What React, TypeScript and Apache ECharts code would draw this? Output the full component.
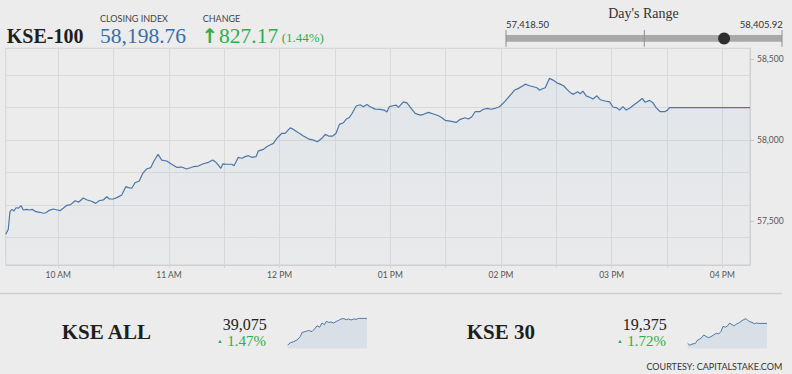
import React, { useEffect, useRef } from 'react';
import * as echarts from 'echarts';

// KSE-100 intraday (minutes since midnight, index level)
const times = [
  571.5, 572.9, 573.8, 574.9, 576.0, 577.1, 578.5, 579.9, 581.0, 582.9,
  584.6, 585.9, 587.9, 590.1, 591.9, 593.3, 595.1, 597.3, 599.5, 600.9,
  602.7, 604.6, 606.7, 609.1, 611.1, 613.6, 615.7, 618.1, 620.3, 622.1,
  624.4, 626.3, 627.7, 629.8, 632.0, 634.4, 636.6, 638.0, 639.8, 641.6,
  643.9, 645.8, 647.9, 650.1, 651.9, 654.1, 656.1, 658.8, 661.5, 664.2,
  666.9, 669.6, 673.2, 675.9, 678.6, 681.4, 683.7, 685.5, 686.8, 688.1,
  689.2, 691.3, 694.1, 695.3, 697.6, 699.5, 701.3, 703.1, 704.9, 707.2,
  708.5, 711.2, 713.0, 714.8, 716.6, 718.5, 721.2, 723.0, 725.7, 727.5,
  730.2, 732.9, 735.6, 738.3, 740.5, 742.9, 744.7, 746.5, 748.8, 750.6,
  752.4, 754.6, 756.0, 757.8, 759.1, 761.5, 763.6, 765.4, 767.3, 769.1,
  771.8, 774.5, 776.7, 778.1, 779.5, 781.4, 783.2, 784.4, 787.1, 789.0,
  791.1, 793.5, 796.2, 798.0, 800.7, 803.4, 806.1, 808.0, 809.7, 812.5,
  815.7, 817.9, 820.6, 822.4, 824.2, 826.0, 828.4, 830.5, 832.7, 834.5,
  836.9, 839.2, 841.4, 843.5, 845.9, 847.2, 849.5, 851.9, 853.1, 855.5,
  857.6, 859.5, 860.9, 862.2, 864.0, 866.3, 868.2, 870.3, 872.1, 873.9,
  875.8, 877.5, 879.3, 881.5, 883.0, 884.4, 886.2, 888.4, 889.9, 892.0,
  893.8, 896.5, 898.9, 900.7, 902.9, 904.3, 906.1, 907.9, 910.1, 912.3,
  914.0, 916.6, 918.2, 920.6, 922.4, 924.2, 926.4, 928.6, 930.3, 931.4,
  975,
];
const values = [
  57418, 57449, 57558, 57572, 57562, 57582, 57580, 57595, 57568, 57572,
  57568, 57572, 57558, 57554, 57548, 57551, 57566, 57574, 57568, 57564,
  57579, 57597, 57601, 57625, 57617, 57642, 57630, 57622, 57609, 57625,
  57630, 57650, 57636, 57636, 57646, 57661, 57712, 57706, 57702, 57736,
  57747, 57794, 57821, 57829, 57870, 57911, 57876, 57870, 57850, 57831,
  57833, 57821, 57835, 57839, 57853, 57862, 57876, 57862, 57845, 57825,
  57852, 57850, 57850, 57841, 57893, 57887, 57897, 57903, 57893, 57897,
  57933, 57942, 57958, 57969, 57979, 58010, 58041, 58041, 58075, 58065,
  58044, 58024, 58007, 57999, 57989, 58010, 58035, 58024, 58024, 58041,
  58096, 58106, 58127, 58139, 58160, 58209, 58217, 58205, 58219, 58205,
  58190, 58189, 58184, 58172, 58205, 58211, 58215, 58201, 58235, 58229,
  58198, 58164, 58153, 58158, 58170, 58160, 58149, 58137, 58121, 58116,
  58108, 58127, 58137, 58129, 58143, 58174, 58174, 58189, 58195, 58189,
  58195, 58205, 58229, 58256, 58287, 58306, 58318, 58334, 58344, 58334,
  58328, 58322, 58307, 58314, 58322, 58380, 58369, 58352, 58344, 58334,
  58312, 58293, 58281, 58297, 58285, 58301, 58272, 58262, 58252, 58272,
  58248, 58240, 58235, 58203, 58198, 58184, 58205, 58184, 58198, 58219,
  58232, 58256, 58232, 58244, 58229, 58198, 58174, 58174, 58184, 58199,
  58198.76,
];

// KSE ALL sparkline
const allTimes = [
  574.9, 588.3, 605.1, 621.9, 638.7, 647.1, 664.0, 680.8, 697.6, 709.3,
  722.8, 736.2, 748.0, 759.8, 769.9, 781.6, 793.4, 806.8, 820.3, 832.1,
  843.8, 857.3, 870.7, 882.5, 894.3, 907.7, 921.1, 933.3, 975,
];
const allValues = [
  38565, 38610, 38630, 38662, 38726, 38804, 38823, 38842, 38823, 38868,
  38933, 38907, 38985, 38952, 39017, 38997, 39004, 38985, 39017, 39036,
  39062, 39069, 39049, 39062, 39043, 39062, 39056, 39075, 39075,
];

// KSE 30 sparkline
const k30Times = [
  574.9, 585.0, 596.7, 613.5, 625.3, 635.4, 647.1, 655.6, 669.0, 680.8,
  692.5, 706.0, 719.4, 731.2, 742.9, 753.0, 764.8, 776.6, 786.7, 798.4,
  810.2, 820.3, 832.1, 843.8, 857.3, 869.0, 877.4, 887.5, 899.3, 911.1,
  921.1, 933.3, 975,
];
const k30Values = [
  19060, 19033, 19049, 19060, 19113, 19129, 19156, 19193, 19167, 19151,
  19167, 19193, 19220, 19209, 19247, 19327, 19316, 19338, 19380, 19354,
  19338, 19364, 19380, 19407, 19434, 19450, 19423, 19402, 19391, 19370,
  19380, 19375, 19375,
];

const gridMinutes = [600, 630, 660, 690, 720, 750, 780, 810, 840, 870, 900, 930, 960];
const hourMinutes = [600, 660, 720, 780, 840, 900, 960];
const yGridValues = [57400, 57600, 57800, 58000, 58200, 58400];
const yLabelValues = [57500, 58000, 58500];

const closingIndex = 58198.76;
const dayLow = 57418.5;
const dayHigh = 58405.92;
const changePts = 827.17;
const changePct = 1.44;

const fmt = (v: number, d: number) =>
  v.toLocaleString('en-US', { minimumFractionDigits: d, maximumFractionDigits: d });

const hourLabel = (m: number) => {
  const h = Math.floor(m / 60);
  const h12 = h > 12 ? h - 12 : h;
  return (h12 < 10 ? '0' + h12 : '' + h12) + ' ' + (h < 12 ? 'AM' : 'PM');
};

const SERIF = '"Liberation Serif", "DejaVu Serif", serif';
const SANS = 'Lato, "Open Sans", sans-serif';
const GREEN = '#2fae4b';
const BLUE_TXT = '#3a6ea5';
const LINE = '#4a77a8';

export default function App() {
  const ref = useRef<HTMLDivElement>(null);
  useEffect(() => {
    const chart = echarts.init(ref.current!, null, { renderer: 'svg' });

    const barL = 506;
    const barR = 782;
    const dotX = barL + ((closingIndex - dayLow) / (dayHigh - dayLow)) * (barR - barL);

    const txt = (text: string, x: number, y: number, size: number, family: string, fill: string, opts: any = {}) => ({
      type: 'text',
      x,
      y,
      silent: true,
      style: {
        text,
        fill,
        fontSize: size,
        fontFamily: family,
        fontWeight: opts.weight || 'normal',
        align: opts.align || 'left',
        verticalAlign: 'middle',
      },
    });

    const option: any = {
      animation: false,
      backgroundColor: '#ececec',
      grid: [
        { left: 5.7, right: 42, top: 48.3, bottom: 109, show: true, borderColor: '#d3d3d3', borderWidth: 1, backgroundColor: 'transparent' },
        { left: 287, top: 318, width: 80, height: 30.5 },
        { left: 687, top: 318, width: 80, height: 30.5 },
      ],
      xAxis: [
        {
          type: 'value',
          gridIndex: 0,
          min: 571.5,
          max: 975,
          axisLine: { show: true, lineStyle: { color: '#cfcfcf' } },
          axisTick: { show: true, length: 3, customValues: gridMinutes, lineStyle: { color: '#d3d3d3' } },
          splitLine: { show: true, lineStyle: { color: '#dadada', width: 1 } },
          axisLabel: {
            customValues: hourMinutes,
            formatter: (v: number) => hourLabel(v),
            fontSize: 8.5,
            fontFamily: SANS,
            color: '#555',
            margin: 5,
          },
        },
        { type: 'value', gridIndex: 1, min: 571.5, max: 975, show: false },
        { type: 'value', gridIndex: 2, min: 571.5, max: 975, show: false },
      ],
      yAxis: [
        {
          type: 'value',
          gridIndex: 0,
          position: 'right',
          min: 57229,
          max: 58565,
          axisLine: { show: false },
          axisTick: { show: false, customValues: yGridValues },
          axisLabel: { show: false },
          splitLine: { show: true, lineStyle: { color: '#dadada', width: 1 } },
        },
        {
          type: 'value',
          gridIndex: 0,
          position: 'right',
          min: 57229,
          max: 58565,
          axisLine: { show: true, lineStyle: { color: '#cfcfcf' } },
          axisTick: { show: true, length: 4, customValues: yLabelValues, lineStyle: { color: '#c4c4c4' } },
          axisLabel: {
            customValues: yLabelValues,
            formatter: (v: number) => fmt(v, 0),
            fontSize: 8.5,
            fontFamily: SANS,
            color: '#555',
            margin: 7,
          },
          splitLine: { show: false },
        },
        { type: 'value', gridIndex: 1, min: 38500, max: 39081, show: false },
        { type: 'value', gridIndex: 2, min: 18980, max: 19460, show: false },
      ],
      series: [
        {
          type: 'line',
          xAxisIndex: 0,
          yAxisIndex: 0,
          data: times.map((t, i) => [t, values[i]]),
          showSymbol: false,
          symbol: 'none',
          lineStyle: { color: LINE, width: 1.2 },
          areaStyle: {
            origin: 'start',
            color: new echarts.graphic.LinearGradient(0, 0, 0, 1, [
              { offset: 0, color: 'rgba(160,185,215,0.20)' },
              { offset: 1, color: 'rgba(160,185,215,0.06)' },
            ]),
          },
          silent: true,
        },
        {
          type: 'line',
          xAxisIndex: 1,
          yAxisIndex: 2,
          data: allTimes.map((t, i) => [t, allValues[i]]),
          showSymbol: false,
          symbol: 'none',
          lineStyle: { color: LINE, width: 1 },
          areaStyle: { origin: 'start', color: '#d8dfe7', opacity: 1 },
          silent: true,
        },
        {
          type: 'line',
          xAxisIndex: 2,
          yAxisIndex: 3,
          data: k30Times.map((t, i) => [t, k30Values[i]]),
          showSymbol: false,
          symbol: 'none',
          lineStyle: { color: LINE, width: 1 },
          areaStyle: { origin: 'start', color: '#d8dfe7', opacity: 1 },
          silent: true,
        },
      ],
      graphic: [
        // header
        txt('KSE-100', 6.7, 36, 20, SERIF, '#1e1e1e', { weight: 'bold' }),
        txt('CLOSING INDEX', 100, 18.3, 9, SANS, '#444'),
        txt(fmt(closingIndex, 2), 100, 36, 21.5, SERIF, BLUE_TXT),
        txt('CHANGE', 202.7, 18.3, 9, SANS, '#444'),
        txt('↑', 201.5, 35.5, 20, '"DejaVu Sans", sans-serif', GREEN, { weight: 'bold' }),
        txt(fmt(changePts, 2), 219, 36, 21.5, SERIF, GREEN),
        txt('(' + changePct.toFixed(2) + '%)', 281.7, 37.5, 13, SERIF, GREEN),
        // day's range
        txt("Day's Range", 643.5, 13.3, 14, SERIF, '#333', { align: 'center' }),
        txt(fmt(dayLow, 2), 506, 24, 9.5, SANS, '#333'),
        txt(fmt(dayHigh, 2), 782.7, 24, 9.5, SANS, '#333', { align: 'right' }),
        { type: 'rect', silent: true, shape: { x: barL, y: 35, width: barR - barL, height: 6.7 }, style: { fill: '#a9a9a9' } },
        { type: 'line', silent: true, shape: { x1: barL, y1: 30, x2: barL, y2: 46.7 }, style: { stroke: '#8f8f8f', lineWidth: 1 } },
        { type: 'line', silent: true, shape: { x1: (barL + barR) / 2 + 0.3, y1: 30, x2: (barL + barR) / 2 + 0.3, y2: 46.7 }, style: { stroke: '#8f8f8f', lineWidth: 1 } },
        { type: 'line', silent: true, shape: { x1: barR, y1: 30, x2: barR, y2: 46.7 }, style: { stroke: '#8f8f8f', lineWidth: 1 } },
        { type: 'circle', silent: true, shape: { cx: dotX, cy: 38.5, r: 6 }, style: { fill: '#2f2f2f' } },
        // separator
        { type: 'line', silent: true, shape: { x1: 0, y1: 293.5, x2: 782, y2: 293.5 }, style: { stroke: '#cfcfcf', lineWidth: 1.5 } },
        // KSE ALL
        txt('KSE ALL', 61.7, 331.7, 21, SERIF, '#1e1e1e', { weight: 'bold' }),
        txt('39,075', 266.7, 324.3, 16, SERIF, '#222', { align: 'right' }),
        { type: 'polygon', silent: true, shape: { points: [[218.2, 343], [221.8, 343], [220, 339.8]] }, style: { fill: GREEN } },
        txt('1.47%', 266, 340.8, 15, SERIF, GREEN, { align: 'right' }),
        // KSE 30
        txt('KSE 30', 466.7, 331.7, 21, SERIF, '#1e1e1e', { weight: 'bold' }),
        txt('19,375', 666.7, 324.3, 16, SERIF, '#222', { align: 'right' }),
        { type: 'polygon', silent: true, shape: { points: [[618.2, 343], [621.8, 343], [620, 339.8]] }, style: { fill: GREEN } },
        txt('1.72%', 666, 340.8, 15, SERIF, GREEN, { align: 'right' }),
        // courtesy
        txt('COURTESY: CAPITALSTAKE.COM', 782.3, 366.7, 9, SANS, '#333', { align: 'right' }),
      ],
    };

    chart.setOption(option);
    return () => chart.dispose();
  }, []);

  return (
    <div
      ref={ref}
      style={{ position: 'fixed', left: 0, top: 0, width: 792, height: 374, background: '#ececec' }}
    />
  );
}
